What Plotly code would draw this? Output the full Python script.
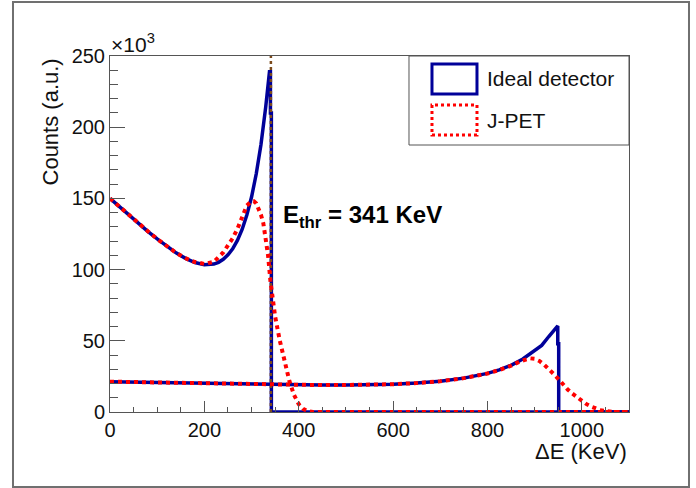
import plotly.graph_objects as go

# ---- spectra (counts in units of 10^3) ----
# 511 keV Compton continuum, ideal detector
e_511_ideal = [0, 20, 40, 60, 80, 100, 120, 140, 160, 180, 200, 210, 220, 230, 240,
               250, 260, 270, 280, 290, 300, 310, 320, 330, 335, 338, 340, 340, 342,
               342, 1100]
c_511_ideal = [150, 144.1, 138.3, 132.6, 126.9, 121.5, 116.4, 111.8, 107.9, 105.0,
               103.4, 103.4, 103.9, 105.1, 107.2, 110.4, 114.6, 120.5, 128.2, 138.3,
               151.0, 167.3, 187.9, 214.1, 228, 239, 239, 210, 210, 0, 0]

# 511 keV Compton continuum, J-PET resolution
e_511_jpet = [0, 20, 40, 60, 80, 100, 120, 140, 160, 180, 200, 220, 240, 260, 270,
              280, 290, 300, 305, 310, 320, 325, 330, 335, 340, 345, 350, 360, 370,
              380, 390, 400, 410, 420, 430, 1100]
c_511_jpet = [150, 144.1, 138.3, 132.6, 127.0, 121.5, 116.4, 111.8, 108.0, 105.3,
              104.0, 105.5, 112.0, 122.0, 128.5, 137.5, 145.0, 148.0, 148.0, 146.5,
              138.5, 132.5, 123.0, 110.0, 92.0, 77.0, 67.0, 50.0, 35.5, 22.0, 12.0,
              5.5, 2.0, 0.5, 0, 0]

# 1157 keV Compton continuum, ideal detector
e_1157_ideal = [0, 50, 100, 150, 200, 250, 300, 350, 400, 450, 500, 550, 600, 650,
                700, 750, 800, 825, 850, 875, 900, 915, 930, 940, 947, 949, 949,
                951, 951, 1100]
c_1157_ideal = [21.3, 21.0, 20.6, 20.2, 19.8, 19.5, 19.2, 19.0, 18.9, 18.9, 19.0,
                19.2, 19.5, 20.3, 21.6, 23.8, 27.1, 29.6, 32.8, 37.2, 42.8, 46.8,
                53.0, 57.2, 60.4, 60.4, 48.0, 48.0, 0, 0]

# 1157 keV Compton continuum, J-PET resolution
e_1157_jpet = [0, 50, 100, 150, 200, 250, 300, 350, 400, 450, 500, 550, 600, 650,
               700, 750, 800, 825, 850, 870, 880, 890, 900, 910, 920, 930, 940, 950,
               960, 970, 980, 990, 1000, 1010, 1020, 1030, 1040, 1050, 1060, 1070, 1100]
c_1157_jpet = [21.3, 21.0, 20.6, 20.2, 19.8, 19.5, 19.2, 19.0, 18.9, 18.9, 19.0,
               19.2, 19.5, 20.3, 21.6, 23.8, 27.0, 29.5, 32.5, 35.7, 37.0, 37.7,
               37.3, 35.8, 33.3, 30.3, 26.8, 23.3, 19.0, 15.8, 12.9, 10.2, 7.7, 5.5,
               3.8, 2.4, 1.3, 0.6, 0.2, 0, 0]

threshold_kev = 341
threshold_y = [0, 250]

series_names = ["Ideal detector", "J-PET"]
x_ticks = [0, 200, 400, 600, 800, 1000]
y_ticks = [0, 50, 100, 150, 200, 250]

BLUE = "#000099"
RED = "#ff0000"
BROWN = "#7b4a1c"
FONT = "Liberation Sans, Arial, sans-serif"

fig = go.Figure()

for ex, cy in [(e_511_ideal, c_511_ideal), (e_1157_ideal, c_1157_ideal)]:
    fig.add_trace(go.Scatter(x=ex, y=cy, mode="lines", showlegend=False,
                             line=dict(color=BLUE, width=3.5), name=series_names[0]))

fig.add_trace(go.Scatter(x=[threshold_kev, threshold_kev], y=threshold_y, mode="lines",
                         showlegend=False, line=dict(color=BROWN, width=2.5, dash="dot")))

for ex, cy in [(e_511_jpet, c_511_jpet), (e_1157_jpet, c_1157_jpet)]:
    fig.add_trace(go.Scatter(x=ex, y=cy, mode="lines", showlegend=False,
                             line=dict(color=RED, width=4, dash="dot"), name=series_names[1]))

axis_common = dict(showline=True, linecolor="#555555", linewidth=1, mirror=True,
                   ticks="inside", tickcolor="#555555", showgrid=False, zeroline=False,
                   tickfont=dict(family=FONT, size=20, color="#111111"))

fig.update_xaxes(range=[0, 1100], tickvals=x_ticks, ticklen=11,
                 minor=dict(ticks="inside", dtick=50, ticklen=5, tickcolor="#555555"),
                 **axis_common)
fig.update_yaxes(range=[0, 250], tickvals=y_ticks, ticklen=15,
                 minor=dict(ticks="inside", dtick=10, ticklen=8, tickcolor="#555555"),
                 **axis_common)

# outer canvas frame
shapes = [dict(type="rect", xref="paper", yref="paper", x0=-0.1869, x1=1.1156,
               y0=-0.2107, y1=1.1517, line=dict(color="#707070", width=2))]

# legend box
shapes.append(dict(type="rect", xref="paper", yref="paper", x0=0.5761, x1=1.0,
                   y0=0.75, y1=1.0, line=dict(color="#555555", width=1),
                   fillcolor="white", layer="above"))
shapes.append(dict(type="rect", xref="paper", yref="paper", x0=0.6204, x1=0.7071,
                   y0=0.8933, y1=0.9775, line=dict(color=BLUE, width=3), layer="above"))
shapes.append(dict(type="rect", xref="paper", yref="paper", x0=0.6204, x1=0.7071,
                   y0=0.7781, y1=0.8624, line=dict(color=RED, width=3, dash="dot"),
                   layer="above"))

annotations = [
    dict(text=series_names[0], xref="paper", yref="paper", x=0.7225, y=0.9354,
         xanchor="left", yanchor="middle", showarrow=False,
         font=dict(family=FONT, size=21, color="#111111")),
    dict(text=series_names[1], xref="paper", yref="paper", x=0.7225, y=0.8202,
         xanchor="left", yanchor="middle", showarrow=False,
         font=dict(family=FONT, size=21, color="#111111")),
    dict(text="Counts (a.u.)", xref="paper", yref="paper", x=-0.1137, y=1.0,
         xanchor="center", yanchor="top", textangle=-90, showarrow=False,
         font=dict(family=FONT, size=22, color="#111111")),
    dict(text="ΔE (KeV)", xref="paper", yref="paper", x=1.0, y=-0.112,
         xanchor="right", yanchor="middle", showarrow=False,
         font=dict(family=FONT, size=22, color="#111111")),
    dict(text="×10<sup>3</sup>", xref="paper", yref="paper", x=-0.002, y=0.995,
         xanchor="left", yanchor="bottom", showarrow=False,
         font=dict(family=FONT, size=21, color="#111111")),
    dict(text="<b>E<sub>thr</sub> = 341 KeV</b>", xref="x", yref="y", x=362, y=137,
         xanchor="left", yanchor="middle", showarrow=False,
         font=dict(family=FONT, size=24, color="#000000")),
]

fig.update_layout(width=696, height=488,
                  margin=dict(l=110, r=67, t=56, b=76),
                  paper_bgcolor="white", plot_bgcolor="white",
                  shapes=shapes, annotations=annotations,
                  font=dict(family=FONT))

fig.write_html("out.html")
